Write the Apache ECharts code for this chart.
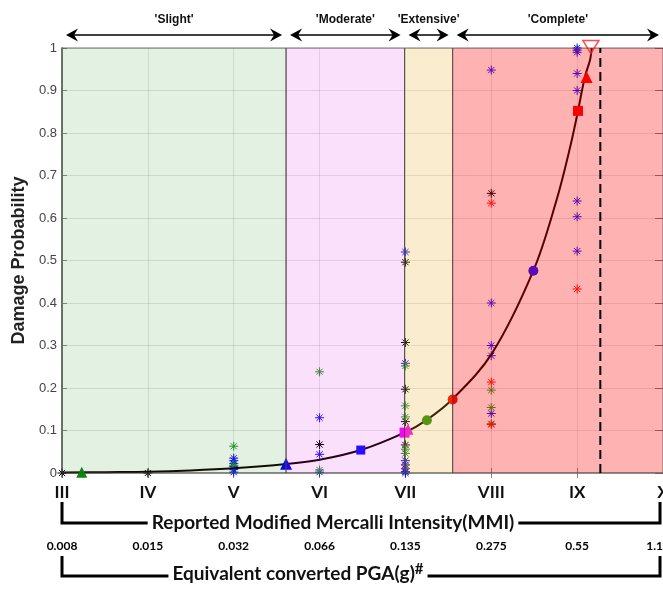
<!DOCTYPE html>
<html><head><meta charset="utf-8">
<script src="https://cdn.jsdelivr.net/npm/echarts@6/dist/echarts.min.js"></script>
<style>html,body{margin:0;padding:0;background:#fff}#c{width:663px;height:590px}</style>
</head><body><div id="c"></div><script>
// ---- data ----
const mmiLabels = ['III','IV','V','VI','VII','VIII','IX','X'];
const pgaLabels = ['0.008','0.015','0.032','0.066','0.135','0.275','0.55','1.1'];
const stateNames = ["'Slight'","'Moderate'","'Extensive'","'Complete'"];
const stateBounds = [3, 5.61, 6.99, 7.55, 10];
const stateColors = ['rgba(0,128,0,0.11)','rgba(220,0,220,0.12)','rgba(230,170,30,0.21)','rgba(255,0,0,0.3)'];
const curveX = [3.0, 3.5, 4.0, 4.5, 5.0, 5.61, 6.0, 6.48, 6.99, 7.25, 7.55, 8.01, 8.49, 8.76, 8.92, 9.01, 9.09, 9.15, 9.17];
const curveY = [0.001, 0.002, 0.003, 0.006, 0.011, 0.021, 0.031, 0.054, 0.095, 0.125, 0.174, 0.282, 0.476, 0.642, 0.768, 0.852, 0.932, 0.972, 1.0];
const obsBlack = [[3,0],[4,0],[6,0.067],[7,0.496],[7,0.307],[7,0.197],[7,0.121],[7,0.066],[7,0.019],[7,0.003],[8,0.658]];
const obsBlue = [[5,0.035],[5,0.029],[5,0.022],[5,0.015],[5,0.008],[5,0.002],[6,0.13],[6,0.044],[6,0.002],
  [7,0.52],[7,0.258],[7,0.029],[7,0.01],[7,0.0],[8,0.948],[8,0.40],[8,0.30],[8,0.276],[8,0.14],
  [9,1.0],[9,0.995],[9,0.99],[9,0.94],[9,0.90],[9,0.64],[9,0.603],[9,0.522]];
const obsGreen = [[5,0.063],[5,0.018],[6,0.238],[6,0.007],[7,0.252],[7,0.158],[7,0.132],[7,0.056],[7,0.046],[8,0.195],[8,0.154],[8,0.116]];
const obsRed = [[8,0.635],[8,0.214],[8,0.114],[9,0.433]];
const ptGreenTri = [[3.23,0.002]];
const ptBlueTri = [[5.61,0.022]];
const ptBlueSq = [[6.48,0.054]];
const ptMagSq = [[6.99,0.095]];
const ptMagTri = [[7.03,0.103]];
const ptGreenCirc = [[7.25,0.124]];
const ptRedCirc = [[7.55,0.173]];
const ptBlueCirc = [[8.49,0.476]];
const ptRedSq = [[9.01,0.852]];
const ptRedTri = [[9.11,0.932]];
const ptRedHollow = [[9.16,1.0]];
const limitX = 9.27;

const AST = 'path://M5,0L5,10M0,5L10,5M1.6,1.6L8.4,8.4M1.6,8.4L8.4,1.6';
function astSeries(data, color){
  return {type:'scatter', data, symbol:AST, symbolSize:9, z:2, clip:false,
    itemStyle:{color:'transparent', borderColor:color, borderWidth:1, opacity:1}};
}
function ptSeries(data, symbol, color, size){
  return {type:'scatter', data, symbol, symbolSize:size, z:3, clip:false, itemStyle:{color, opacity:1}};
}
const bandData = stateNames.map((n,i)=>[stateBounds[i], stateBounds[i+1], 0, 1, i]);

const chart = echarts.init(document.getElementById('c'));
const option = {
  animation:false,
  grid:{left:62, right:0, top:48, bottom:117, outerBoundsMode:'none', containLabel:false},
  xAxis:[
    {type:'value', min:3, max:10, interval:1, position:'bottom',
     axisLine:{show:true, onZero:false, lineStyle:{color:'#9a9a9a', width:2}},
     axisTick:{show:true, inside:true, length:5, lineStyle:{color:'#888'}},
     axisLabel:{formatter:v=>mmiLabels[Math.round(v-3)], fontFamily:'Lato', fontWeight:'bold', fontSize:17, color:'#111', margin:11, showMinLabel:true, showMaxLabel:true},
     splitLine:{show:true, lineStyle:{color:'rgba(0,0,0,0.1)', width:1}}},
    {type:'value', min:3, max:10, interval:1, position:'bottom', offset:62,
     axisLine:{show:false}, axisTick:{show:false}, splitLine:{show:false},
     axisLabel:{formatter:v=>pgaLabels[Math.round(v-3)], fontFamily:'Lato', fontWeight:'bold', fontSize:12, color:'#000', margin:5, showMinLabel:true, showMaxLabel:true, alignMaxLabel:'right'}},
    {type:'value', min:3, max:10, interval:1, position:'top',
     axisLine:{show:true, lineStyle:{color:'#c4c4c4', width:1.5}},
     axisTick:{show:true, inside:true, length:5, lineStyle:{color:'#888'}},
     axisLabel:{show:false}, splitLine:{show:false}}
  ],
  yAxis:[
    {type:'value', min:0, max:1, interval:0.1, name:'Damage Probability', nameLocation:'middle', nameGap:30,
     nameTextStyle:{fontSize:18, fontWeight:'bold', color:'#222', fontFamily:'Liberation Sans'},
     axisLine:{show:true, lineStyle:{color:'#8a8a8a', width:2}},
     axisTick:{show:true, inside:true, length:5, lineStyle:{color:'#888'}},
     axisLabel:{formatter:v=>String(Math.round(v*10)/10), fontSize:13, color:'#444', margin:5, fontFamily:'Liberation Sans'},
     splitLine:{show:true, lineStyle:{color:'rgba(0,0,0,0.1)', width:1}}},
    {type:'value', min:0, max:1, interval:0.1, position:'right',
     axisLine:{show:false}, axisTick:{show:true, inside:true, length:8, lineStyle:{color:'#777'}},
     axisLabel:{show:false}, splitLine:{show:false}}
  ],
  series:[
    {type:'line', data:curveX.map((x,i)=>[x,curveY[i]]), smooth:0.35, showSymbol:false, z:3,
     lineStyle:{color:'#140000', width:2}},
    astSeries(obsBlack,'#000000'),
    astSeries(obsBlue,'#1010ff'),
    astSeries(obsGreen,'#259425'),
    astSeries(obsRed,'#ff1010'),
    ptSeries(ptGreenTri,'triangle','#0a8a0a',11),
    ptSeries(ptBlueTri,'triangle','#0000ff',12),
    ptSeries(ptBlueSq,'rect','#1010ff',9),
    ptSeries(ptMagSq,'rect','#ff00ff',10),
    ptSeries(ptMagTri,'triangle','#ff00ff',11),
    ptSeries(ptGreenCirc,'circle','#2f8f0f',10),
    ptSeries(ptRedCirc,'circle','#ff0000',10),
    ptSeries(ptBlueCirc,'circle','#1010ff',10),
    ptSeries(ptRedSq,'rect','#ff0000',10),
    ptSeries(ptRedTri,'triangle','#ff0000',12),
    {type:'custom', data:bandData, z:5, silent:true, encode:{x:[0,1], y:[2,3]},
     renderItem:(params, api)=>{
       const p0 = api.coord([api.value(0), api.value(3)]);
       const p1 = api.coord([api.value(1), api.value(2)]);
       return {type:'rect', shape:{x:p0[0], y:p0[1], width:p1[0]-p0[0], height:p1[1]-p0[1]},
         style:{fill:stateColors[api.value(4)], stroke:'rgba(70,70,70,0.75)', lineWidth:1}};
     }},
    {type:'line', data:[[limitX,0],[limitX,1]], showSymbol:false, z:6,
     lineStyle:{color:'#000', width:2, type:[9,5]}},
    {type:'scatter', data:ptRedHollow, symbol:'path://M0,0L10,0L5,9Z', symbolSize:[16,13], symbolOffset:[0,-1], z:6, clip:false,
     itemStyle:{color:'transparent', borderColor:'#ff2020', borderWidth:1.5}}
  ]
};
chart.setOption(option);

// ---- annotations positioned from axis scales ----
function px(x,y){ return chart.convertToPixel({seriesIndex:0}, [x,y]); }
const W = 663;
const g = [];
const arrowY = 35, labelY = 20;
function head(tx, ty, dir){
  return {type:'polygon', shape:{points:[[tx,ty],[tx-dir*12,ty-6.5],[tx-dir*8,ty],[tx-dir*12,ty+6.5]]}, style:{fill:'#000'}};
}
for (let i=0;i<stateNames.length;i++){
  const a = px(stateBounds[i],1)[0] + 4;
  const b = Math.min(px(stateBounds[i+1],1)[0] - 4, W-3);
  g.push({type:'line', shape:{x1:a+4, y1:arrowY, x2:b-4, y2:arrowY}, style:{stroke:'#000', lineWidth:1.5}});
  g.push(head(a, arrowY, -1));
  g.push(head(b, arrowY, 1));
  g.push({type:'text', x:(a+b)/2, y:labelY, style:{text:stateNames[i], align:'center', verticalAlign:'middle',
    fontSize:12, fontWeight:'bold', fontFamily:'Liberation Sans', fill:'#111'}});
}
const xL = px(3,0)[0], xR = Math.min(px(10,0)[0], W-3);
// MMI bracket
const b1 = 523;
g.push({type:'polyline', shape:{points:[[xL,502],[xL,b1],[xR,b1],[xR,502]]}, style:{stroke:'#000', lineWidth:3, fill:null}, z:1});
g.push({type:'text', x:333, y:b1, z:2, style:{text:'Reported Modified Mercalli Intensity(MMI)', align:'center', verticalAlign:'middle',
  fontSize:19, fontFamily:'Lato', fontWeight:'bold', fill:'#111', backgroundColor:'#fff', padding:[0,4]}});
// PGA bracket
const b2 = 576;
g.push({type:'polyline', shape:{points:[[xL,556],[xL,b2],[xR,b2],[xR,556]]}, style:{stroke:'#000', lineWidth:3, fill:null}, z:1});
g.push({type:'text', x:298, y:b2-2, z:2, style:{text:'{a|Equivalent converted PGA(g)}{s|#}', align:'center', verticalAlign:'middle',
  backgroundColor:'#fff', padding:[0,4],
  rich:{a:{fontSize:19, fontFamily:'Lato', fontWeight:'bold', fill:'#111', lineHeight:24},
        s:{fontSize:15, fontFamily:'Lato', fontWeight:'bold', fill:'#111', verticalAlign:'top', lineHeight:12}}}});
chart.setOption({graphic:g});
</script></body></html>
